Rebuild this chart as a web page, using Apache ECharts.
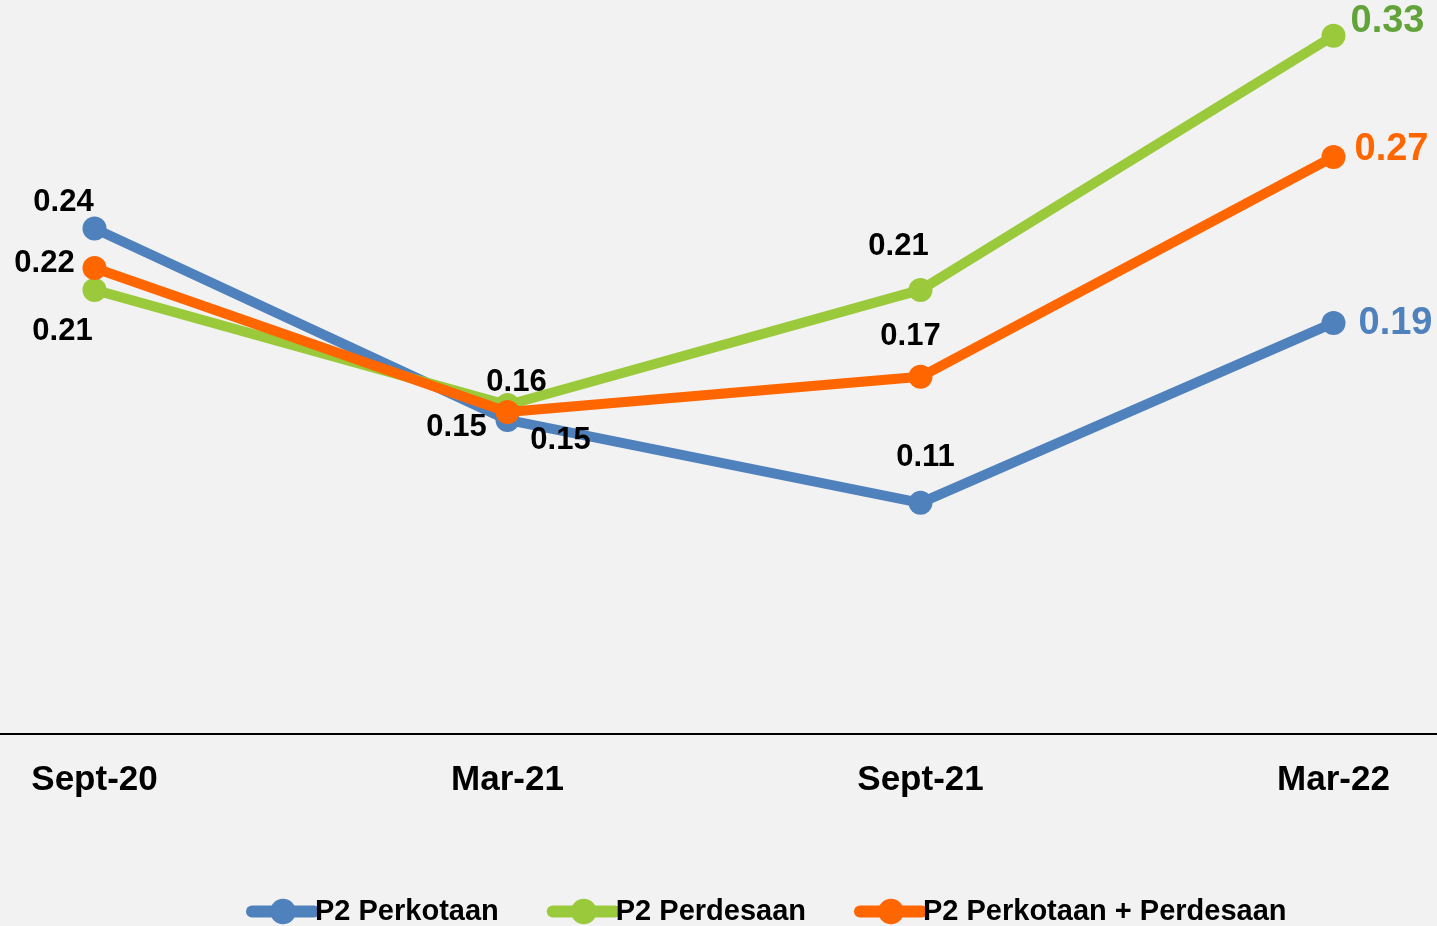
<!DOCTYPE html>
<html>
<head>
<meta charset="utf-8">
<script src="https://cdn.jsdelivr.net/npm/echarts@6/dist/echarts.min.js"></script>
<style>
html, body { margin: 0; padding: 0; background: #f2f2f2; }
#mychart { width: 1437px; height: 926px; }
</style>
</head>
<body>
<div id="mychart"></div>
<script>
// periods on the x axis
const periods = ['Sept-20', 'Mar-21', 'Sept-21', 'Mar-22']
// values
const perkotaan = [0.239, 0.1485, 0.1093, 0.1944]
const perdesaan = [0.21, 0.1556, 0.21, 0.3302]
const gabungan = [0.2204, 0.1523, 0.1689, 0.2729]
const seriesNames = ['P2 Perkotaan', 'P2 Perdesaan', 'P2 Perkotaan + Perdesaan']

const blue = '#4f81bd'
const green = '#9aca3c'
const orange = '#ff6600'

const font = 'Liberation Sans, Arial, sans-serif'

// label offsets from each point, last point gets the big coloured label
function labels (vals, offsets, lastColor) {
  return vals.map((v, i) => {
    const last = i === vals.length - 1
    return {
      value: v,
      label: {
        show: true,
        position: 'inside',
        offset: offsets[i],
        align: 'center',
        verticalAlign: 'middle',
        formatter: p => p.value.toFixed(2),
        fontFamily: font,
        fontWeight: 'bold',
        fontSize: last ? 38 : 31,
        color: last ? lastColor : '#000'
      }
    }
  })
}

const chart = echarts.init(document.getElementById('mychart'))
chart.setOption({
  backgroundColor: '#f2f2f2',
  animation: false,
  grid: {
    left: -112,
    right: -103,
    top: 15,
    bottom: 192,
    outerBoundsMode: 'none'
  },
  legend: {
    bottom: 0,
    left: 246,
    padding: 0,
    itemWidth: 62,
    itemHeight: 32,
    itemGap: 48,
    lineStyle: { width: 12, cap: 'round' },
    textStyle: { fontFamily: font, fontWeight: 'bold', fontSize: 29, color: '#000', padding: [0, 0, 0, -4] },
    data: seriesNames
  },
  xAxis: {
    type: 'category',
    data: periods,
    boundaryGap: true,
    axisLine: { lineStyle: { color: '#000', width: 2 } },
    axisTick: { show: false },
    axisLabel: { fontFamily: font, fontWeight: 'bold', fontSize: 35, color: '#000', margin: 29 }
  },
  yAxis: {
    type: 'value',
    min: 0,
    max: 0.34,
    show: false,
    splitLine: { show: false }
  },
  series: [
    {
      name: seriesNames[0],
      type: 'line',
      data: labels(perkotaan, [[-31, -26], [53, 20], [5, -45], [62, 1]], blue),
      color: blue,
      lineStyle: { width: 10, color: blue },
      symbol: 'circle',
      symbolSize: 24,
      z: 2
    },
    {
      name: seriesNames[1],
      type: 'line',
      data: labels(perdesaan, [[-32, 42], [9, -22], [-22, -43], [54, -14]], '#62a33a'),
      color: green,
      lineStyle: { width: 10, color: green },
      symbol: 'circle',
      symbolSize: 24,
      z: 3
    },
    {
      name: seriesNames[2],
      type: 'line',
      data: labels(gabungan, [[-50, -4], [-51, 16], [-10, -40], [58, -7]], orange),
      color: orange,
      lineStyle: { width: 10, color: orange },
      symbol: 'circle',
      symbolSize: 24,
      z: 4
    }
  ]
})
window.onresize = function () {
  chart.resize()
}
</script>
</body>
</html>
